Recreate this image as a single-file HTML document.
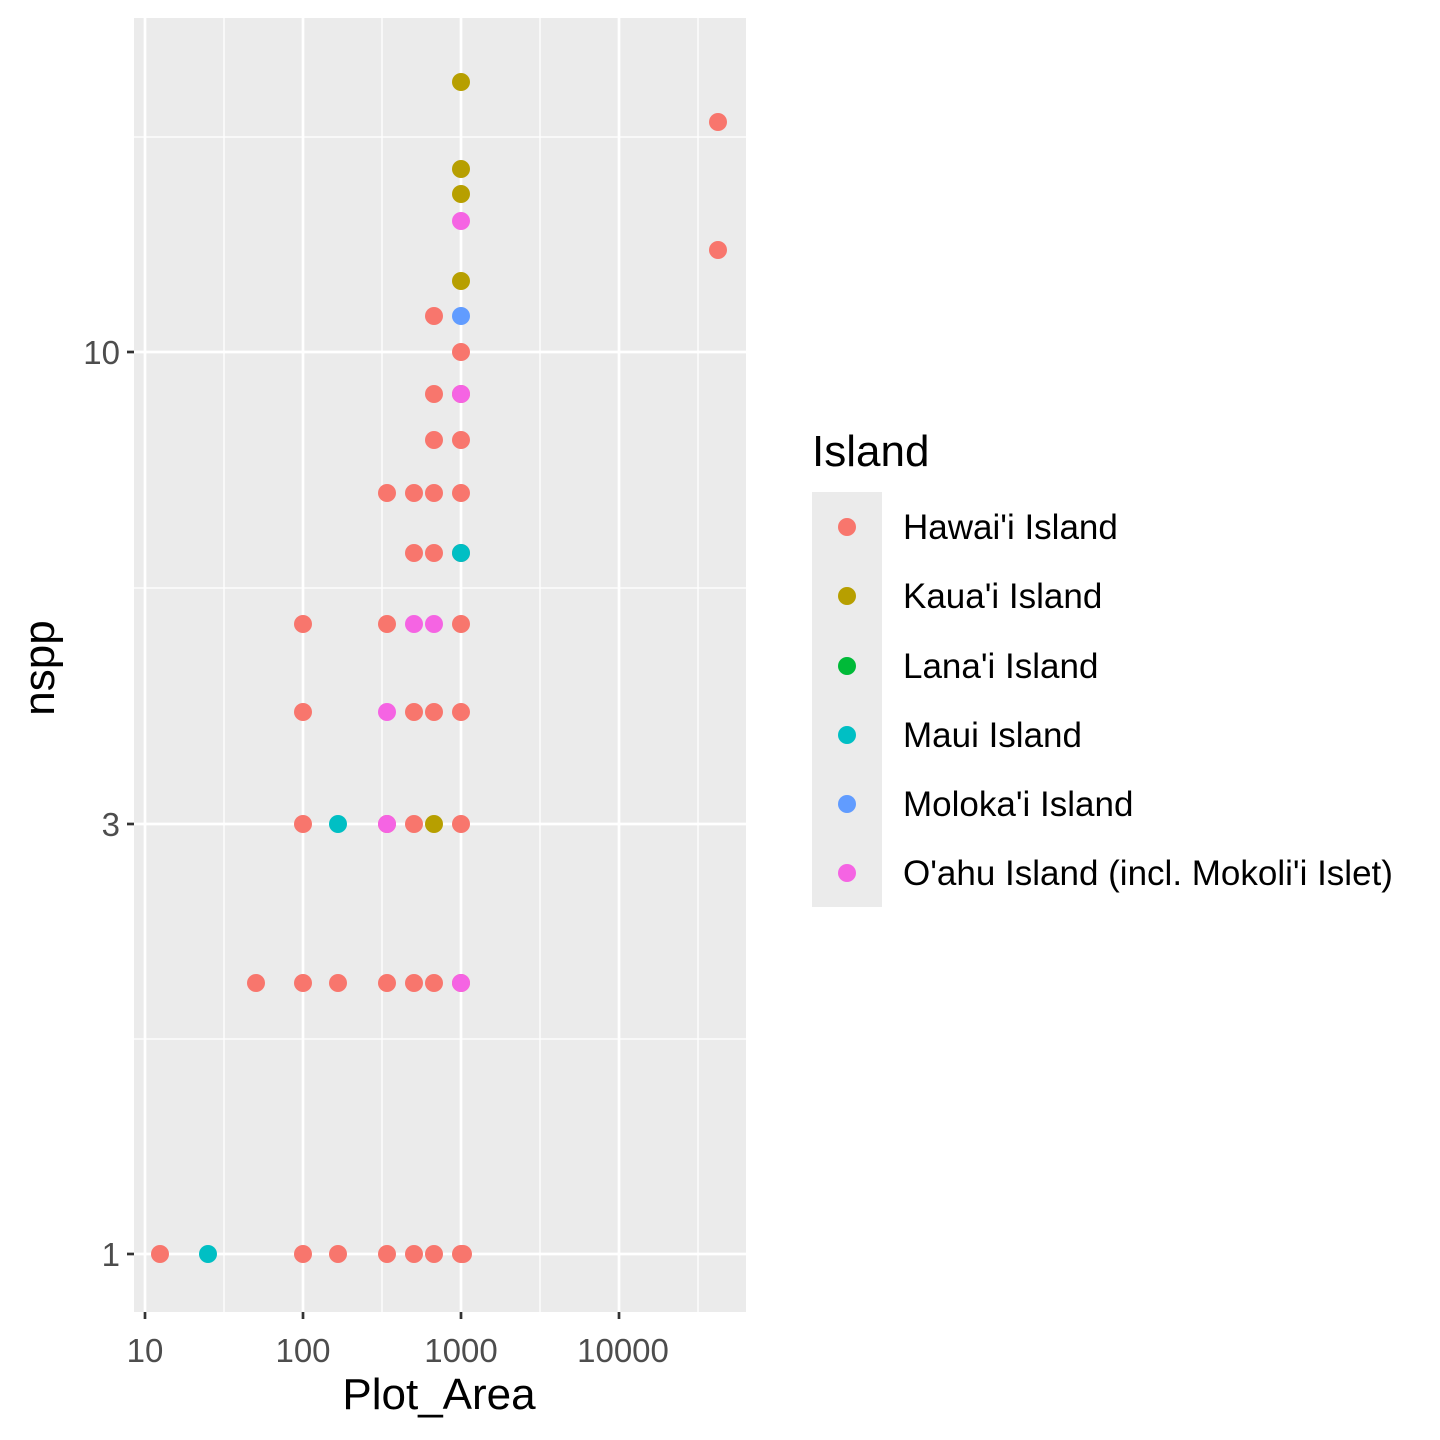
<!DOCTYPE html>
<html><head><meta charset="utf-8"><style>body{margin:0;background:#fff}svg{display:block}text{font-family:"Liberation Sans",Arial,sans-serif}</style></head>
<body>
<svg width="1440" height="1440" viewBox="0 0 1440 1440" xmlns="http://www.w3.org/2000/svg">
<rect x="134" y="18" width="612" height="1294" fill="#EBEBEB"/>
<g stroke="#fff" stroke-width="1.3">
<line x1="134" x2="746" y1="1039" y2="1039"/><line x1="134" x2="746" y1="588" y2="588"/><line x1="134" x2="746" y1="137" y2="137"/>
<line x1="224" x2="224" y1="18" y2="1312"/><line x1="382" x2="382" y1="18" y2="1312"/><line x1="540" x2="540" y1="18" y2="1312"/><line x1="698" x2="698" y1="18" y2="1312"/>
</g>
<g stroke="#fff" stroke-width="2.7">
<line x1="134" x2="746" y1="1254" y2="1254"/><line x1="134" x2="746" y1="824" y2="824"/><line x1="134" x2="746" y1="352" y2="352"/>
<line x1="145" x2="145" y1="18" y2="1312"/><line x1="303" x2="303" y1="18" y2="1312"/><line x1="461" x2="461" y1="18" y2="1312"/><line x1="619" x2="619" y1="18" y2="1312"/>
</g>
<g stroke="#333" stroke-width="2.7">
<line x1="127" x2="134" y1="1254" y2="1254"/><line x1="127" x2="134" y1="824" y2="824"/><line x1="127" x2="134" y1="352" y2="352"/>
<line x1="145" x2="145" y1="1312" y2="1319"/><line x1="303" x2="303" y1="1312" y2="1319"/><line x1="461" x2="461" y1="1312" y2="1319"/><line x1="619" x2="619" y1="1312" y2="1319"/>
</g>
<g fill="#4D4D4D" font-size="33">
<text x="120" y="1266" text-anchor="end">1</text><text x="120" y="836" text-anchor="end">3</text><text x="120" y="364" text-anchor="end">10</text>
<text x="145" y="1362" text-anchor="middle">10</text><text x="303" y="1362" text-anchor="middle">100</text><text x="461" y="1362" text-anchor="middle">1000</text><text x="623" y="1362" text-anchor="middle">10000</text>
</g>
<text x="439" y="1409" font-size="44" text-anchor="middle">Plot_Area</text>
<text transform="translate(54,668) rotate(-90)" font-size="44" text-anchor="middle">nspp</text>
<g>
<g fill="#F8766D">
<circle cx="160" cy="1254" r="9"/><circle cx="303" cy="1254" r="9"/><circle cx="338" cy="1254" r="9"/><circle cx="387" cy="1254" r="9"/><circle cx="414" cy="1254" r="9"/><circle cx="434" cy="1254" r="9"/><circle cx="461" cy="1254" r="9"/><circle cx="463" cy="1254" r="9"/>
<circle cx="256" cy="983" r="9"/><circle cx="303" cy="983" r="9"/><circle cx="338" cy="983" r="9"/><circle cx="387" cy="983" r="9"/><circle cx="414" cy="983" r="9"/><circle cx="434" cy="983" r="9"/><circle cx="461" cy="983" r="9"/>
<circle cx="303" cy="824" r="9"/><circle cx="387" cy="824" r="9"/><circle cx="414" cy="824" r="9"/><circle cx="461" cy="824" r="9"/>
<circle cx="303" cy="712" r="9"/><circle cx="414" cy="712" r="9"/><circle cx="434" cy="712" r="9"/><circle cx="461" cy="712" r="9"/>
<circle cx="303" cy="624" r="9"/><circle cx="387" cy="624" r="9"/><circle cx="461" cy="624" r="9"/>
<circle cx="414" cy="553" r="9"/><circle cx="434" cy="553" r="9"/><circle cx="461" cy="553" r="9"/>
<circle cx="387" cy="493" r="9"/><circle cx="414" cy="493" r="9"/><circle cx="434" cy="493" r="9"/><circle cx="461" cy="493" r="9"/>
<circle cx="434" cy="440" r="9"/><circle cx="461" cy="440" r="9"/>
<circle cx="434" cy="394" r="9"/><circle cx="461" cy="394" r="9"/>
<circle cx="461" cy="352" r="9"/><circle cx="434" cy="316" r="9"/>
<circle cx="718" cy="122" r="9"/><circle cx="718" cy="250" r="9"/>
</g>
<g fill="#00BFC4"><circle cx="208" cy="1254" r="9"/><circle cx="338" cy="824" r="9"/><circle cx="461" cy="553" r="9"/></g>
<g fill="#B79F00"><circle cx="434" cy="824" r="9"/><circle cx="461" cy="281" r="9"/><circle cx="461" cy="194" r="9"/><circle cx="461" cy="169" r="9"/><circle cx="461" cy="82" r="9"/></g>
<g fill="#619CFF"><circle cx="461" cy="316" r="9"/></g>
<g fill="#F564E3"><circle cx="461" cy="983" r="9"/><circle cx="387" cy="824" r="9"/><circle cx="387" cy="712" r="9"/><circle cx="414" cy="624" r="9"/><circle cx="434" cy="624" r="9"/><circle cx="461" cy="394" r="9"/><circle cx="461" cy="221" r="9"/></g>
</g>
<text x="812" y="466" font-size="44">Island</text>
<rect x="812" y="492" width="70" height="415" fill="#EBEBEB"/>
<circle cx="847" cy="527" r="9" fill="#F8766D"/><circle cx="847" cy="596" r="9" fill="#B79F00"/><circle cx="847" cy="666" r="9" fill="#00BA38"/><circle cx="847" cy="735" r="9" fill="#00BFC4"/><circle cx="847" cy="804" r="9" fill="#619CFF"/><circle cx="847" cy="873" r="9" fill="#F564E3"/>
<g font-size="35" fill="#000">
<text x="903" y="539">Hawai'i Island</text><text x="903" y="608">Kaua'i Island</text><text x="903" y="678">Lana'i Island</text><text x="903" y="747">Maui Island</text><text x="903" y="816">Moloka'i Island</text><text x="903" y="885">O'ahu Island (incl. Mokoli'i Islet)</text>
</g>
</svg>
</body></html>
